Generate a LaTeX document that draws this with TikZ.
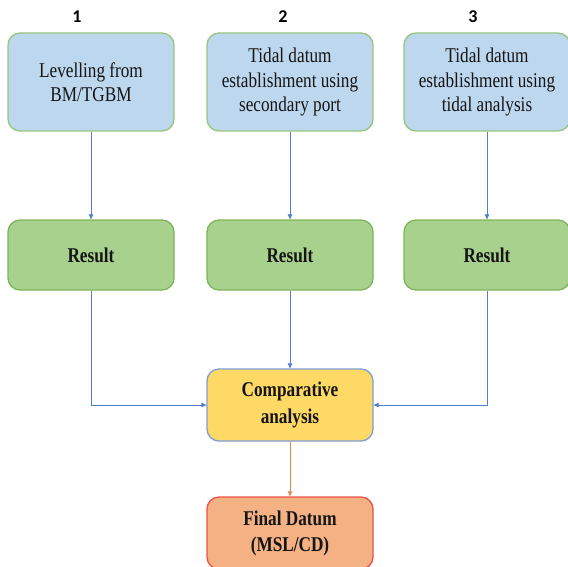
\documentclass[tikz,border=0pt]{standalone}
\usepackage{fontspec}
\setmainfont{Liberation Serif}[FakeStretch=0.82]
\newfontfamily\numfont{Carlito}
\usetikzlibrary{arrows.meta}
\definecolor{bluefill}{HTML}{BDD7EE}
\definecolor{greenfill}{HTML}{A9D18E}
\definecolor{greenline}{HTML}{7DB65A}
\definecolor{yellowfill}{HTML}{FFD966}
\definecolor{yellowline}{HTML}{7F9FD0}
\definecolor{orangefill}{HTML}{F4B183}
\definecolor{redline}{HTML}{F0504A}
\definecolor{arrowblue}{HTML}{4F7FCF}
\definecolor{arroworange}{HTML}{D98A50}
\definecolor{txt}{HTML}{151515}
\begin{document}
\begin{tikzpicture}[x=1pt,y=-1pt,
  boxbase/.style={rounded corners=12pt, line width=1.3pt, minimum width=166pt, align=center, text=txt, inner sep=2pt,
    font=\fontsize{21}{24.5}\selectfont},
  topbox/.style={boxbase, fill=bluefill, draw=greenline!80, minimum height=98pt},
  resbox/.style={boxbase, fill=greenfill, draw=greenline, minimum height=70pt, font=\fontsize{21}{25}\selectfont\bfseries},
  compbox/.style={boxbase, fill=yellowfill, draw=yellowline, minimum height=72pt, font=\fontsize{21}{27}\selectfont\bfseries},
  finbox/.style={boxbase, fill=orangefill, draw=redline, minimum height=72pt, font=\fontsize{21}{26}\selectfont\bfseries},
  numlbl/.style={font=\numfont\fontsize{18}{20}\selectfont\bfseries, text=black},
  conn/.style={draw=arrowblue, line width=0.8pt, -{Triangle[length=5pt,width=4.5pt]}},
  connor/.style={draw=arroworange, line width=0.8pt, -{Triangle[length=5pt,width=4.5pt]}}
]
\useasboundingbox[fill=white] (0,0) rectangle (568,567);
\node[numlbl] (n1) at (77,17) {1};
\node[numlbl] (n2) at (283,17) {2};
\node[numlbl] (n3) at (473,17) {3};
\node[topbox] (b1) at (91,82) {Levelling from\\BM/TGBM};
\node[topbox] (b2) at (290,82) {Tidal datum\\establishment using\\secondary port};
\node[topbox] (b3) at (487,82) {Tidal datum\\establishment using\\tidal analysis};
\node[resbox] (r1) at (91,255) {Result};
\node[resbox] (r2) at (290,255) {Result};
\node[resbox] (r3) at (487,255) {Result};
\node[compbox] (c) at (290,405) {Comparative\\analysis};
\node[finbox] (f) at (290,533) {Final Datum\\(MSL/CD)};
\draw[conn] (b1) -- (r1);
\draw[conn] (b2) -- (r2);
\draw[conn] (b3) -- (r3);
\draw[conn] (r2) -- (c);
\draw[conn] (r1.south) |- (c.west);
\draw[conn] (r3.south) |- (c.east);
\draw[connor] (c) -- (f);
\end{tikzpicture}
\end{document}
